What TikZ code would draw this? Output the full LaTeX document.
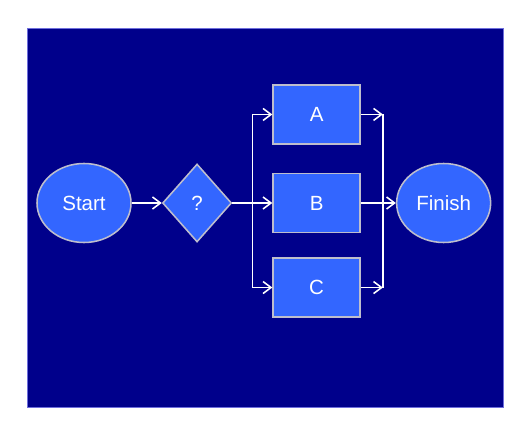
\documentclass[tikz,border=0pt]{standalone}
\usepackage{fontspec}
\setmainfont{Liberation Sans}
\usepackage{tikz}
\usetikzlibrary{positioning,arrows.meta,shapes.geometric,calc}
\definecolor{panelnavy}{RGB}{0,0,139}
\definecolor{panelrim}{RGB}{110,110,220}
\definecolor{stepblue}{RGB}{51,102,255}
\definecolor{rimgray}{RGB}{190,190,205}
\tikzset{
  terminal-node/.style={ellipse, draw=rimgray, line width=1.1pt, fill=stepblue,
    minimum width=2.35cm, minimum height=1.975cm, text=white, inner sep=0pt},
  decision-node/.style={diamond, draw=rimgray, line width=1.1pt, fill=stepblue,
    minimum width=1.725cm, minimum height=1.95cm, text=white, inner sep=0pt},
  task-node/.style={draw=rimgray, line width=1.1pt, fill=stepblue,
    minimum width=2.175cm, minimum height=1.475cm, text=white, inner sep=0pt},
  flow-arrow/.style={-{Straight Barb[length=2mm,width=3mm]}, line width=1.1pt, draw=white},
  flow-line/.style={line width=1.1pt, draw=white}
}

\begin{document}
\begin{tikzpicture}[node distance=0.675cm and 0.8cm, every node/.style={font=\fontsize{14.6}{17}\selectfont}]
\useasboundingbox (0,0) rectangle (13.275,10.875);
% Panel
\fill[gray!25] (0.69,0.67) rectangle (12.59,10.15);
\draw[panelrim, fill=panelnavy, line width=0.5pt] (0.675,0.7) rectangle (12.575,10.175);

% Start and decision
\node[terminal-node] (start) at (2.1,5.8) {Start};
\node[decision-node, right=0.75cm of start] (ask) {?};

% Three parallel tasks
\node[task-node, right=1.0cm of ask] (b) {B};
\node[task-node, above=0.7cm of b] (a) {A};
\node[task-node, below=0.6cm of b] (c) {C};

% Finish
\node[terminal-node, right=0.875cm of b] (finish) {Finish};

% Split and join points
\coordinate[right=0.5cm of ask.east] (split);
\coordinate[right=0.55cm of b.east] (join);

% Connectors
\draw[flow-arrow] (start) -- (ask);
\draw[flow-arrow] (ask) -- (b);
\draw[flow-line] (split |- a) -- (split |- c);
\draw[flow-arrow] (split |- a) -- (a);
\draw[flow-arrow] (split |- c) -- (c);
\draw[flow-arrow] (a) -- (join |- a);
\draw[flow-arrow] (c) -- (join |- c);
\draw[flow-line] (join |- a) -- (join |- c);
\draw[flow-arrow] (b) -- (finish);
\end{tikzpicture}
\end{document}
